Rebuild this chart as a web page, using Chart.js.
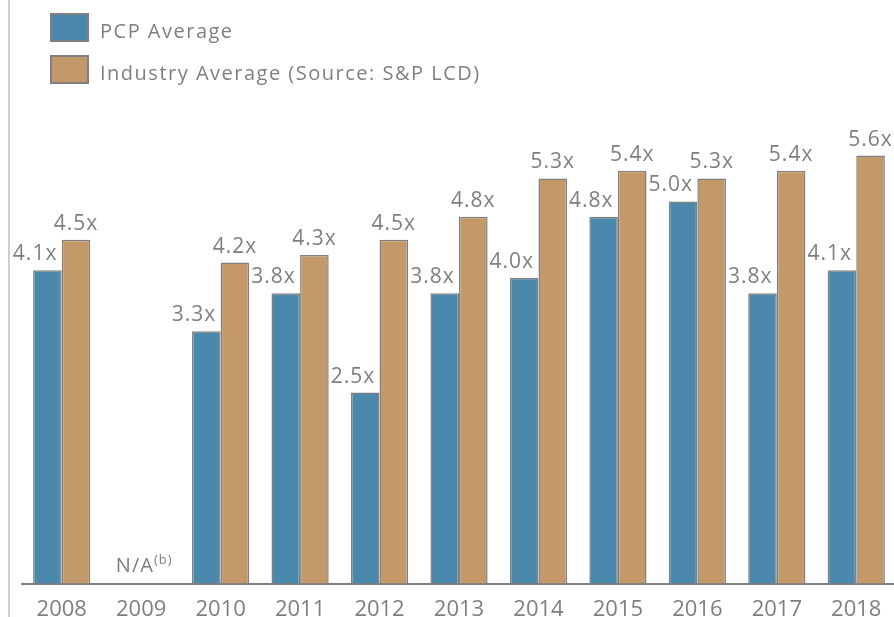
<!DOCTYPE html>
<html>
<head>
<meta charset="utf-8">
<script src="https://cdn.jsdelivr.net/npm/chart.js@4.4.1/dist/chart.umd.min.js"></script>
<style>
    html, body { margin: 0; padding: 0; background: #fff; overflow: hidden; }
    #page { position: relative; width: 894px; height: 617px; overflow: hidden; }
    #frame { position: absolute; left: 8px; top: 0; width: 2px; height: 617px; background: #cfcfcf; }
    #holder { position: absolute; left: 0; top: 0; width: 898px; height: 635px; }
    #legend { position: absolute; left: 50px; top: 13px; font-family: "Open Sans", sans-serif; }
    .item { position: relative; height: 29px; margin-bottom: 13px; }
    .box { position: absolute; left: 0; top: 0; width: 39px; height: 29px; box-sizing: border-box; border: 2px solid #808080; }
    .txt { position: absolute; left: 50px; top: 3px; line-height: 29px; font-size: 20px; color: #7f7f7f; letter-spacing: 1.5px; white-space: nowrap; }
</style>
</head>
<body>
<div id="page">
    <div id="frame"></div>
    <div id="holder"><canvas id="leverageChart" width="898" height="635"></canvas></div>
    <div id="legend"></div>
</div>
<script>
// chart data
var years = ['2008', '2009', '2010', '2011', '2012', '2013', '2014', '2015', '2016', '2017', '2018'];
var pcpAverage = [4.1, null, 3.3, 3.8, 2.5, 3.8, 4.0, 4.8, 5.0, 3.8, 4.1];
var industryAverage = [4.5, null, 4.2, 4.3, 4.5, 4.8, 5.3, 5.4, 5.3, 5.4, 5.6];
var missingNotes = ['', 'N/A', '', '', '', '', '', '', '', '', ''];
var missingMarks = ['', '(b)', '', '', '', '', '', '', '', '', ''];
var seriesNames = ['PCP Average', 'Industry Average (Source: S&P LCD)'];
var yMax = 6.5;

var textGrey = '#7f7f7f';

// value labels above the bars + the N/A note
var barLabels = {
    id: 'barLabels',
    afterDatasetsDraw: function (chart) {
        var ctx = chart.ctx;
        ctx.save();
        ctx.fillStyle = textGrey;
        ctx.textBaseline = 'alphabetic';
        ctx.textAlign = 'center';
        ctx.font = '21px "Open Sans"';
        if ('letterSpacing' in ctx) ctx.letterSpacing = '1px';
        chart.data.datasets.forEach(function (ds, i) {
            var meta = chart.getDatasetMeta(i);
            meta.data.forEach(function (bar, j) {
                var v = ds.data[j];
                if (v === null || v === undefined) return;
                var shift = i === 0 ? -bar.width / 2 + 2 : 0;
                ctx.fillText(v.toFixed(1) + 'x', bar.x + shift, bar.y - 10);
            });
        });

        var base = chart.scales.y.getPixelForValue(0);
        ctx.textAlign = 'left';
        missingNotes.forEach(function (note, j) {
            if (!note) return;
            var cx = chart.scales.x.getPixelForValue(j);
            ctx.font = '20px "Open Sans"';
            var w1 = ctx.measureText(note).width;
            ctx.font = '13px "Open Sans"';
            var w2 = ctx.measureText(missingMarks[j]).width;
            var start = cx - (w1 + w2) / 2 + 3;
            ctx.font = '20px "Open Sans"';
            ctx.fillText(note, start, base - 12);
            ctx.font = '13px "Open Sans"';
            ctx.fillText(missingMarks[j], start + w1, base - 20);
        });
        ctx.restore();
    }
};

var ctx = document.getElementById('leverageChart').getContext('2d');
var chart = new Chart(ctx, {
    type: 'bar',
    data: {
        labels: years,
        datasets: [
            {
                label: seriesNames[0],
                data: pcpAverage,
                backgroundColor: '#4a89ac',
                borderColor: '#808080',
                borderWidth: 1.5
            },
            {
                label: seriesNames[1],
                data: industryAverage,
                backgroundColor: '#c4996a',
                borderColor: '#808080',
                borderWidth: 1.5
            }
        ]
    },
    options: {
        responsive: false,
        animation: false,
        layout: { padding: { left: 22, right: 2, top: 86.75, bottom: 0 } },
        datasets: {
            bar: { categoryPercentage: 0.72, barPercentage: 1 }
        },
        scales: {
            x: {
                grid: { display: false, drawTicks: false },
                border: { display: true, color: '#808080', width: 2 },
                ticks: {
                    color: textGrey,
                    padding: 12.5,
                    font: { family: 'Open Sans', size: 22 }
                }
            },
            y: {
                display: false,
                min: 0,
                max: yMax
            }
        },
        plugins: {
            legend: { display: false },
            tooltip: { enabled: false }
        }
    },
    plugins: [barLabels]
});

// legend kept as html so the two entries stack
var legendBox = document.getElementById('legend');
Chart.defaults.plugins.legend.labels.generateLabels(chart).forEach(function (item) {
    var row = document.createElement('div');
    row.className = 'item';
    var box = document.createElement('div');
    box.className = 'box';
    box.style.background = item.fillStyle;
    var txt = document.createElement('div');
    txt.className = 'txt';
    txt.textContent = item.text;
    row.appendChild(box);
    row.appendChild(txt);
    legendBox.appendChild(row);
});
</script>
</body>
</html>
